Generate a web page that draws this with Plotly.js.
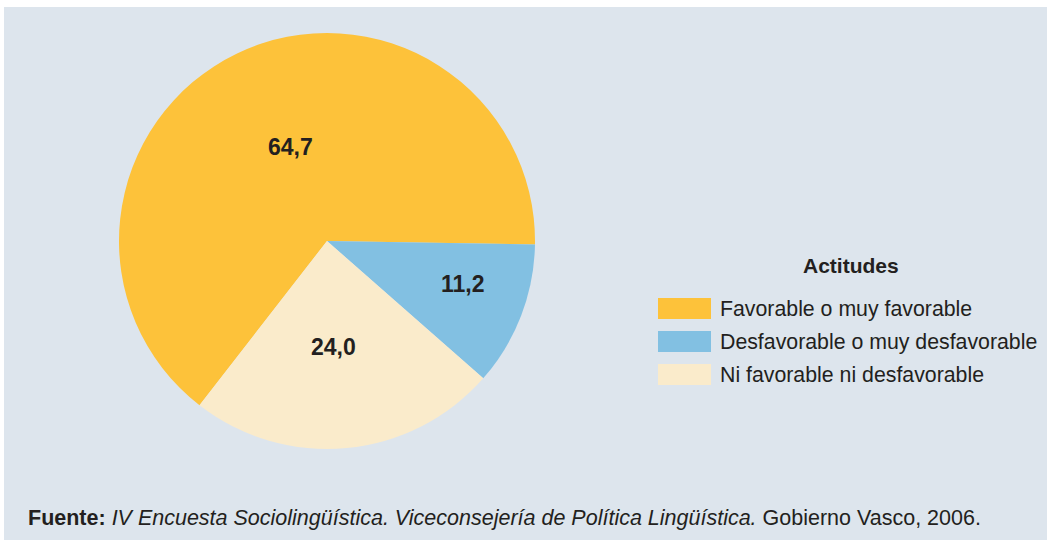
<!DOCTYPE html>
<html>
<head>
<meta charset="utf-8">
<script src="https://cdn.plot.ly/plotly-3.0.1.min.js"></script>
<style>
  html, body { margin: 0; padding: 0; background: #ffffff; }
  #chart { position: absolute; left: 4px; top: 7px; width: 1043px; height: 533px; }
</style>
</head>
<body>
<div id="chart"></div>
<script>
// ---- Data ----
const categories = ['Favorable o muy favorable', 'Desfavorable o muy desfavorable', 'Ni favorable ni desfavorable'];
const values = [64.7, 11.2, 24.0];
const valueLabels = ['64,7', '11,2', '24,0'];
const sliceColors = ['#FDC23A', '#82C0E2', '#FAEBCB'];
const legendTitle = 'Actitudes';
const sourceText = '<b>Fuente:</b> <i>IV Encuesta Sociolingüística. Viceconsejería de Política Lingüística.</i> Gobierno Vasco, 2006.';

// ---- Layout helpers ----
const W = 1043, H = 533;
const px = x => x / W;
const py = y => 1 - y / H;
const FONT = '"Liberation Sans", Arial, Helvetica, sans-serif';
const TXT = '#231F20';

// pie geometry (pixels inside the plot div)
const CX = 323, CY = 234, R = 208;
const ROTATION = -142.2;

const trace = {
  type: 'pie',
  labels: categories,
  values: values,
  textinfo: 'none',
  marker: { colors: sliceColors, line: { width: 0 } },
  sort: false,
  direction: 'clockwise',
  rotation: ROTATION,
  domain: { x: [px(CX - R), px(CX + R)], y: [py(CY + R), py(CY - R)] },
  showlegend: false,
  hoverinfo: 'label+percent'
};

const shapes = [];
const annotations = [];

// value labels placed along each slice (style: radial fraction + angular nudge)
const labelRadius = [0.486, 0.684, 0.51];
const labelNudge = [4.2, -3.7, 2];
const total = values.reduce((a, b) => a + b, 0);
let cum = 0;
values.forEach((v, i) => {
  const midCw = ROTATION + (cum + v / 2) / total * 360 + labelNudge[i];
  cum += v;
  const a = midCw * Math.PI / 180;
  const x = CX + labelRadius[i] * R * Math.sin(a);
  const y = CY - labelRadius[i] * R * Math.cos(a);
  annotations.push({
    xref: 'paper', yref: 'paper', x: px(x), y: py(y),
    xanchor: 'center', yanchor: 'middle', showarrow: false,
    text: '<b>' + valueLabels[i] + '</b>',
    font: { family: FONT, size: 23, color: TXT }
  });
});

// custom legend (wide swatches) built from the arrays
const legX0 = 654, legX1 = 707, legTextX = 714, legY0 = 291, legStep = 33, swH = 21;
categories.forEach((c, i) => {
  const y0 = legY0 + i * legStep;
  shapes.push({
    type: 'rect', xref: 'paper', yref: 'paper',
    x0: px(legX0), x1: px(legX1), y0: py(y0 + swH), y1: py(y0),
    fillcolor: sliceColors[i], line: { width: 0 }
  });
  annotations.push({
    xref: 'paper', yref: 'paper', x: px(legTextX), y: py(y0 + swH / 2),
    xanchor: 'left', yanchor: 'middle', showarrow: false,
    text: c, font: { family: FONT, size: 21.3, color: TXT }
  });
});
annotations.push({
  xref: 'paper', yref: 'paper', x: px(847), y: py(259),
  xanchor: 'center', yanchor: 'middle', showarrow: false,
  text: '<b>' + legendTitle + '</b>', font: { family: FONT, size: 21, color: TXT }
});
annotations.push({
  xref: 'paper', yref: 'paper', x: px(22), y: py(511),
  xanchor: 'left', yanchor: 'middle', showarrow: false,
  text: sourceText, font: { family: FONT, size: 21.5, color: TXT }
});

const layout = {
  width: W, height: H,
  margin: { l: 0, r: 0, t: 0, b: 0 },
  paper_bgcolor: '#DDE5ED',
  plot_bgcolor: '#DDE5ED',
  showlegend: false,
  shapes: shapes,
  annotations: annotations
};

Plotly.newPlot('chart', [trace], layout, { displayModeBar: false, staticPlot: true });
</script>
</body>
</html>
